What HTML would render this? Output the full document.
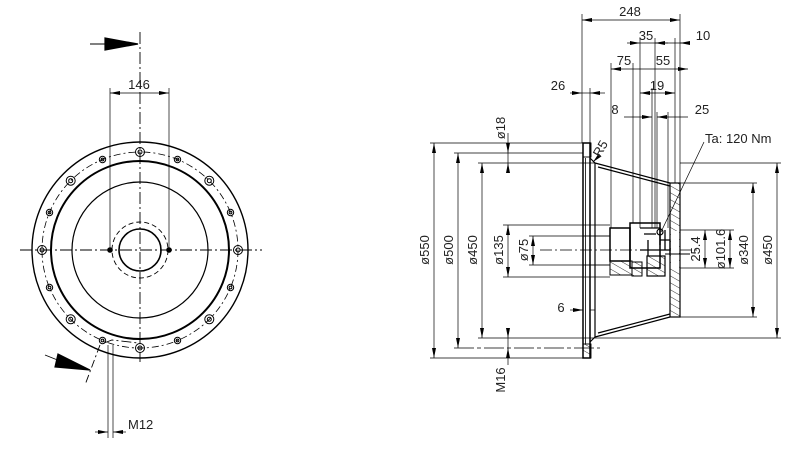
<!DOCTYPE html>
<html><head><style>body{margin:0;background:#fff}svg{display:block}text{font-family:"Liberation Sans",sans-serif;font-size:13px;fill:#222}</style></head>
<body>
<svg width="800" height="452" viewBox="0 0 800 452" xmlns="http://www.w3.org/2000/svg">
<defs>
<marker id="a" markerWidth="10" markerHeight="6" refX="10" refY="3" orient="auto-start-reverse" markerUnits="userSpaceOnUse"><path d="M0,1 L10,3 L0,5z" fill="#000"/></marker>
<pattern id="h" width="6" height="6" patternUnits="userSpaceOnUse" patternTransform="rotate(-60)"><line x1="0" y1="0" x2="0" y2="6" stroke="#000" stroke-width="0.8"/></pattern>
</defs>
<g fill="none" stroke="#000" stroke-width="1.2">
<!-- LEFT VIEW -->
<line x1="140" y1="32" x2="140" y2="362" stroke-dasharray="12,3,2,3" stroke-width="0.9"/>
<line x1="20" y1="250" x2="262" y2="250" stroke-dasharray="12,3,2,3" stroke-width="0.9"/>
<circle cx="140" cy="250" r="108" stroke-width="1.4"/>
<circle cx="140" cy="250" r="98" stroke-dasharray="7,3,2,3" stroke-width="0.8"/>
<circle cx="140" cy="250" r="89" stroke-width="2"/>
<circle cx="140" cy="250" r="68"/>
<circle cx="140" cy="250" r="28" stroke-dasharray="5,3" stroke-width="0.9"/>
<circle cx="140" cy="250" r="21" stroke-width="1.6"/>
<g stroke-width="1">
<circle cx="140" cy="152" r="4.5"/><circle cx="140" cy="152" r="2"/>
<circle cx="177.5" cy="159.5" r="3.2"/><circle cx="177.5" cy="159.5" r="1.4"/>
<circle cx="209.3" cy="180.7" r="4.5"/><circle cx="209.3" cy="180.7" r="2"/>
<circle cx="230.5" cy="212.5" r="3.2"/><circle cx="230.5" cy="212.5" r="1.4"/>
<circle cx="238" cy="250" r="4.5"/><circle cx="238" cy="250" r="2"/>
<circle cx="230.5" cy="287.5" r="3.2"/><circle cx="230.5" cy="287.5" r="1.4"/>
<circle cx="209.3" cy="319.3" r="4.5"/><circle cx="209.3" cy="319.3" r="2"/>
<circle cx="177.5" cy="340.5" r="3.2"/><circle cx="177.5" cy="340.5" r="1.4"/>
<circle cx="140" cy="348" r="4.5"/><circle cx="140" cy="348" r="2"/>
<circle cx="102.5" cy="340.5" r="3.2"/><circle cx="102.5" cy="340.5" r="1.4"/>
<circle cx="70.7" cy="319.3" r="4.5"/><circle cx="70.7" cy="319.3" r="2"/>
<circle cx="49.5" cy="287.5" r="3.2"/><circle cx="49.5" cy="287.5" r="1.4"/>
<circle cx="42" cy="250" r="4.5"/><circle cx="42" cy="250" r="2"/>
<circle cx="49.5" cy="212.5" r="3.2"/><circle cx="49.5" cy="212.5" r="1.4"/>
<circle cx="70.7" cy="180.7" r="4.5"/><circle cx="70.7" cy="180.7" r="2"/>
<circle cx="102.5" cy="159.5" r="3.2"/><circle cx="102.5" cy="159.5" r="1.4"/>
</g>
<circle cx="110" cy="250" r="2.2" fill="#000"/><circle cx="169" cy="250" r="2.2" fill="#000"/>
<line x1="110" y1="88" x2="110" y2="250" stroke-width="0.7"/><line x1="169" y1="88" x2="169" y2="250" stroke-width="0.7"/>
<line x1="110" y1="93" x2="169" y2="93" stroke-width="0.7" marker-start="url(#a)" marker-end="url(#a)"/>
<line x1="90" y1="44" x2="138" y2="44" stroke-width="0.9"/>
<path d="M105,38 L138,44 L105,50z" fill="#000"/>
<line x1="45" y1="355" x2="60" y2="361" stroke-width="0.9"/>
<path d="M58,354 L90,370 L55,367z" fill="#000"/>
<line x1="100" y1="345" x2="85" y2="385" stroke-dasharray="8,3,2,3" stroke-width="0.9"/>
<path d="M104,343 L112,340 L138,343" stroke-dasharray="10,3,2,3" stroke-width="0.9"/>
<line x1="108" y1="345" x2="108" y2="438" stroke-width="0.7"/><line x1="113" y1="345" x2="113" y2="438" stroke-width="0.7"/>
<line x1="95" y1="432" x2="108" y2="432" stroke-width="0.7" marker-end="url(#a)"/>
<line x1="126" y1="432" x2="113" y2="432" stroke-width="0.7" marker-end="url(#a)"/>
<!-- RIGHT VIEW -->
<line x1="540" y1="250" x2="700" y2="250" stroke-dasharray="12,3,2,3" stroke-width="0.8"/>
<rect x="583" y="143" width="7" height="215" stroke-width="1.5"/>
<line x1="585.5" y1="158" x2="585.5" y2="344" stroke-width="0.8"/>
<line x1="595" y1="163" x2="595" y2="337"/>
<line x1="590" y1="158" x2="595" y2="163"/><line x1="590" y1="342" x2="595" y2="337"/>
<rect x="583" y="143" width="8" height="14" stroke-width="0.9"/>
<rect x="583" y="344" width="8" height="14" fill="url(#h)" stroke-width="0.9"/>
<path d="M595,163 L670,183 M598,167 L670,186" />
<path d="M595,337 L670,317 M598,333 L670,314"/>
<rect x="670" y="183" width="10" height="134" fill="url(#h)" stroke-width="1.2"/>
<rect x="671" y="231" width="8" height="38" fill="#fff" stroke="none"/>
<rect x="583" y="236" width="27" height="29" stroke-width="0.9"/>
<rect x="610" y="228" width="20" height="33" stroke-width="1.5"/>
<rect x="630" y="223" width="30" height="45" stroke-width="1.5"/>
<rect x="610" y="261" width="22" height="14" fill="url(#h)" stroke-width="1"/>
<rect x="632" y="262" width="10" height="14" fill="url(#h)" stroke-width="1"/>
<rect x="647" y="256" width="18" height="20" fill="url(#h)" stroke-width="1.2"/>
<path d="M640,228 L660,228 L660,245 M644,234 L656,234 M648,240 L648,256 M640,250 L670,250 M660,240 L670,240 L670,255 M665,230 L665,250" stroke-width="1.3"/>
<circle cx="660" cy="232" r="3"/>
<line x1="665" y1="254" x2="690" y2="254" stroke-width="0.9"/>
<g stroke-width="0.7">
<line x1="582" y1="14" x2="582" y2="143"/><line x1="680" y1="14" x2="680" y2="183"/>
<line x1="640" y1="38" x2="640" y2="228"/><line x1="655" y1="38" x2="655" y2="228"/><line x1="675" y1="38" x2="675" y2="183"/>
<line x1="611" y1="63" x2="611" y2="228"/><line x1="633" y1="63" x2="633" y2="223"/>
<line x1="590" y1="88" x2="590" y2="143"/><line x1="652" y1="88" x2="652" y2="228"/><line x1="657" y1="112" x2="657" y2="228"/><line x1="668" y1="112" x2="668" y2="228"/>
<line x1="582" y1="20" x2="680" y2="20" marker-start="url(#a)" marker-end="url(#a)"/>
<line x1="627" y1="43" x2="640" y2="43" marker-end="url(#a)"/><line x1="640" y1="43" x2="690" y2="43"/>
<line x1="668" y1="43" x2="655" y2="43" marker-end="url(#a)"/><line x1="690" y1="43" x2="680" y2="43" marker-end="url(#a)"/>
<line x1="611" y1="69" x2="688" y2="69" marker-start="url(#a)" marker-end="url(#a)"/>
<line x1="570" y1="93" x2="582" y2="93" marker-end="url(#a)"/><line x1="605" y1="93" x2="590" y2="93" marker-end="url(#a)"/><line x1="582" y1="93" x2="590" y2="93"/>
<line x1="640" y1="93" x2="675" y2="93" marker-start="url(#a)" marker-end="url(#a)"/>
<line x1="624" y1="117" x2="652" y2="117" marker-end="url(#a)"/><line x1="688" y1="117" x2="657" y2="117" marker-end="url(#a)"/>
<line x1="704" y1="142" x2="661" y2="232"/>
<line x1="430" y1="143" x2="583" y2="143"/><line x1="430" y1="358" x2="583" y2="358"/>
<line x1="454" y1="153" x2="583" y2="153"/><line x1="454" y1="348" x2="600" y2="348" stroke-dasharray="20,3,4,3"/>
<line x1="478" y1="163" x2="595" y2="163"/><line x1="478" y1="338" x2="595" y2="338"/>
<line x1="503" y1="225" x2="610" y2="225"/><line x1="503" y1="277" x2="610" y2="277"/>
<line x1="529" y1="236" x2="583" y2="236"/><line x1="529" y1="265" x2="583" y2="265"/>
<line x1="680" y1="163" x2="781" y2="163"/><line x1="595" y1="338" x2="781" y2="338"/>
<line x1="680" y1="183" x2="757" y2="183"/><line x1="680" y1="317" x2="757" y2="317"/>
<line x1="680" y1="230" x2="734" y2="230"/><line x1="680" y1="268" x2="734" y2="268"/>
<line x1="434" y1="143" x2="434" y2="358" marker-start="url(#a)" marker-end="url(#a)"/>
<line x1="458" y1="153" x2="458" y2="348" marker-start="url(#a)" marker-end="url(#a)"/>
<line x1="482" y1="163" x2="482" y2="338" marker-start="url(#a)" marker-end="url(#a)"/>
<line x1="508" y1="225" x2="508" y2="277" marker-start="url(#a)" marker-end="url(#a)"/>
<line x1="533" y1="236" x2="533" y2="265" marker-start="url(#a)" marker-end="url(#a)"/>
<line x1="508" y1="133" x2="508" y2="153" marker-end="url(#a)"/><line x1="508" y1="173" x2="508" y2="163" marker-end="url(#a)"/><line x1="508" y1="153" x2="508" y2="163"/>
<line x1="508" y1="328" x2="508" y2="338" marker-end="url(#a)"/><line x1="508" y1="365" x2="508" y2="348" marker-end="url(#a)"/><line x1="508" y1="338" x2="508" y2="348"/>
<line x1="705" y1="230" x2="705" y2="268" marker-start="url(#a)" marker-end="url(#a)"/>
<line x1="730" y1="230" x2="730" y2="268" marker-start="url(#a)" marker-end="url(#a)"/>
<line x1="753" y1="183" x2="753" y2="317" marker-start="url(#a)" marker-end="url(#a)"/>
<line x1="777" y1="163" x2="777" y2="338" marker-start="url(#a)" marker-end="url(#a)"/>
<line x1="570" y1="310" x2="583" y2="310" marker-end="url(#a)"/><line x1="595" y1="310" x2="590" y2="310"/>
<line x1="600" y1="155" x2="593" y2="162" marker-end="url(#a)"/>
</g>
</g>
<g>
<text x="139" y="89" text-anchor="middle">146</text>
<text x="128" y="429">M12</text>
<text x="630" y="16" text-anchor="middle">248</text>
<text x="646" y="40" text-anchor="middle">35</text>
<text x="703" y="40" text-anchor="middle">10</text>
<text x="624" y="65" text-anchor="middle">75</text>
<text x="663" y="65" text-anchor="middle">55</text>
<text x="558" y="90" text-anchor="middle">26</text>
<text x="657" y="90" text-anchor="middle">19</text>
<text x="615" y="114" text-anchor="middle">8</text>
<text x="702" y="114" text-anchor="middle">25</text>
<text x="561" y="312" text-anchor="middle">6</text>
<text x="705" y="143" font-size="14">Ta: 120 Nm</text>
<text transform="translate(600,158) rotate(-60)" font-size="12">R5</text>
<text transform="translate(429,250) rotate(-90)" text-anchor="middle">ø550</text>
<text transform="translate(453,250) rotate(-90)" text-anchor="middle">ø500</text>
<text transform="translate(477,250) rotate(-90)" text-anchor="middle">ø450</text>
<text transform="translate(503,250) rotate(-90)" text-anchor="middle">ø135</text>
<text transform="translate(528,250) rotate(-90)" text-anchor="middle">ø75</text>
<text transform="translate(505,128) rotate(-90)" text-anchor="middle">ø18</text>
<text transform="translate(505,380) rotate(-90)" text-anchor="middle">M16</text>
<text transform="translate(700,249) rotate(-90)" text-anchor="middle">25.4</text>
<text transform="translate(725,249) rotate(-90)" text-anchor="middle">ø101.6</text>
<text transform="translate(748,250) rotate(-90)" text-anchor="middle">ø340</text>
<text transform="translate(772,250) rotate(-90)" text-anchor="middle">ø450</text>
</g>
</svg>
</body></html>
